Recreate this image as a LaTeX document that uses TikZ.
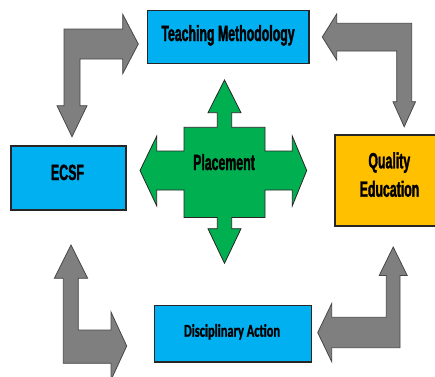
\documentclass[tikz,border=0pt]{standalone}
\usepackage{fontspec}
\newfontfamily\headfont{Liberation Sans}[FakeStretch=0.56, FakeBold=1.5]
\newfontfamily\discfont{Carlito}[FakeStretch=0.69, FakeBold=1.2]
\definecolor{boxblue}{HTML}{00B0F0}
\definecolor{boxgold}{HTML}{FFC000}
\definecolor{hubgreen}{HTML}{00B050}
\definecolor{flowgray}{HTML}{7F7F7F}
\definecolor{edgedark}{HTML}{262626}
\tikzset{
  panel/.style={draw=edgedark, line width=1.1pt, inner sep=0pt, outer sep=0pt},
  bluepanel/.style={panel, fill=boxblue},
  goldpanel/.style={panel, fill=boxgold},
  headtext/.style={inner sep=0pt, anchor=base, font=\headfont\bfseries\fontsize{22}{28}\selectfont},
  disctext/.style={inner sep=0pt, anchor=base, font=\discfont\bfseries\fontsize{18}{22}\selectfont},
  bentarrow/.style={fill=flowgray, draw=edgedark!85, line width=0.8pt, line join=miter},
  hubarrow/.style={fill=hubgreen, draw=edgedark, line width=0.8pt, line join=miter}
}
\begin{document}
\begin{tikzpicture}[x=1pt, y=-1pt]
\useasboundingbox (0,0) rectangle (435,376);
\fill[white] (0,0) rectangle (435,376);

% the four boxes
\node[bluepanel, minimum width=161.7pt, minimum height=52.6pt] (teach) at (228.15,37) {};
\node[bluepanel, minimum width=115pt, minimum height=64pt] (ecsf) at (68.5,178) {};
\node[goldpanel, minimum width=102pt, minimum height=91pt] (quality) at (386,180.5) {};
\node[bluepanel, minimum width=157.4pt, minimum height=56.7pt] (discipline) at (233,333.65) {};

% box captions
\node[headtext] (teach-text) at (228,41) {Teaching Methodology};
\node[headtext] (ecsf-text) at (67.5,180) {ECSF};
\node[headtext] (quality-text) at (389.3,168.3) {Quality};
\node[headtext] (education-text) at (389.5,196.7) {Education};
\node[disctext] (discipline-text) at (232,336.7) {Disciplinary Action};

% bent arrow: top left (right and down)
\draw[bentarrow] (64,29) -- (122.7,29) -- (122.7,14.3) -- (138.3,44) -- (122.7,73.7)
  -- (122.7,59) -- (80,59) -- (80,105.7) -- (87,105.7) -- (72,136.7) -- (57,105.7)
  -- (64,105.7) -- cycle;

% bent arrow: top right (left and down)
\draw[bentarrow] (411.7,23.3) -- (411.7,101.7) -- (415.5,101.7) -- (404.2,126.7)
  -- (393,101.7) -- (396.7,101.7) -- (396.7,51) -- (336.7,51) -- (336.7,60)
  -- (322.3,37) -- (336.7,14) -- (336.7,23.3) -- cycle;

% bent arrow: bottom left (up and right)
\draw[bentarrow] (63.3,363.3) -- (63.3,278.3) -- (54.3,278.3) -- (71,245)
  -- (87.7,278.3) -- (78.3,278.3) -- (78.3,330) -- (111,330) -- (111,312)
  -- (126.7,346) -- (111,380) -- (111,363.3) -- cycle;

% bent arrow: bottom right (up and left)
\draw[bentarrow] (400,347.7) -- (331.7,347.7) -- (331.7,361.6) -- (317.7,332.6)
  -- (331.7,303.6) -- (331.7,317.3) -- (386.3,317.3) -- (386.3,275.5)
  -- (379.2,275.5) -- (393.2,247) -- (407.2,275.5) -- (400,275.5) -- cycle;

% central four-way arrow
\draw[hubarrow] (224.5,80) -- (241,112.7) -- (231.7,112.7) -- (231.7,127.3)
  -- (265,127.3) -- (265,151) -- (292.3,151) -- (292.3,136.2) -- (306.7,170.5)
  -- (292.3,205.8) -- (292.3,190) -- (265,190) -- (265,217.5) -- (231.7,217.5)
  -- (231.7,228.7) -- (241,228.7) -- (224.5,263.3) -- (208,228.7) -- (217.3,228.7)
  -- (217.3,217.5) -- (184,217.5) -- (184,190) -- (156.7,190) -- (156.7,205.8)
  -- (140,170.5) -- (156.7,136.2) -- (156.7,151) -- (184,151) -- (184,127.3)
  -- (217.3,127.3) -- (217.3,112.7) -- (208,112.7) -- cycle;
\node[headtext] (hub-text) at (224,170) {Placement};
\end{tikzpicture}
\end{document}
